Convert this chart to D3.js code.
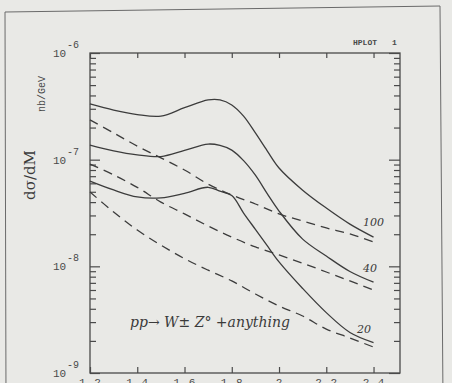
<!DOCTYPE html>
<html>
<head>
<meta charset="utf-8">
<script src="https://cdn.jsdelivr.net/npm/d3@7"></script>
<style>
  html, body { margin: 0; padding: 0; background: #e9e9e6; }
  svg { display: block; }
  .axis path { display: none; }
  .axis line { stroke: #4a4a4a; stroke-width: 1.2; }
  .mono { font-family: "Liberation Mono", "DejaVu Sans Mono", monospace; fill: #4a4a4a; }
  .hand { font-family: "DejaVu Serif", "Liberation Serif", serif; font-style: italic; fill: #3a3a3a; }
</style>
</head>
<body>
<div id="chart"></div>
<script>
// invariant mass (TeV) for the solid curves
var massSolid = [1.2, 1.3, 1.4, 1.5, 1.6, 1.7, 1.75, 1.8, 1.85, 1.9, 1.95, 2.0, 2.1, 2.2, 2.3, 2.4];
var solid100 = [3.33e-7, 2.92e-7, 2.65e-7, 2.56e-7, 3.07e-7, 3.63e-7, 3.63e-7, 3.26e-7, 2.56e-7, 1.78e-7, 1.21e-7, 8.36e-8, 5.18e-8, 3.52e-8, 2.49e-8, 1.88e-8];
var solid40  = [1.37e-7, 1.21e-7, 1.11e-7, 1.07e-7, 1.22e-7, 1.40e-7, 1.36e-7, 1.23e-7, 9.8e-8, 7.15e-8, 4.8e-8, 3.3e-8, 1.80e-8, 1.25e-8, 8.95e-9, 7.1e-9];
var solid20  = [6.3e-8, 5.2e-8, 4.47e-8, 4.38e-8, 4.84e-8, 5.51e-8, 5.06e-8, 4.61e-8, 3.16e-8, 2.22e-8, 1.56e-8, 1.10e-8, 6.2e-9, 3.68e-9, 2.40e-9, 1.93e-9];

// dashed curves (no peak)
var massDashed = [1.2, 1.3, 1.4, 1.5, 1.6, 1.7, 1.8, 1.9, 2.0, 2.1, 2.2, 2.3, 2.4];
var dashed100 = [2.36e-7, 1.78e-7, 1.34e-7, 1.04e-7, 8.0e-8, 5.9e-8, 4.67e-8, 3.84e-8, 3.10e-8, 2.66e-8, 2.29e-8, 2.01e-8, 1.69e-8];
var dashed40  = [9.1e-8, 7.2e-8, 5.5e-8, 4.0e-8, 3.10e-8, 2.39e-8, 1.88e-8, 1.52e-8, 1.28e-8, 1.07e-8, 8.85e-9, 7.3e-9, 6.0e-9];
var dashed20  = [4.98e-8, 3.23e-8, 2.19e-8, 1.58e-8, 1.18e-8, 9.2e-9, 7.3e-9, 5.5e-9, 4.25e-9, 3.42e-9, 2.58e-9, 2.13e-9, 1.75e-9];

var curveLabels = ["100", "40", "20"];

var xTickValues = [1.2, 1.4, 1.6, 1.8, 2.0, 2.2, 2.4];
var xTickLabels = ["1.2", "1.4", "1.6", "1.8", "2", "2.2", "2.4"];
var yDecades = [1e-6, 1e-7, 1e-8, 1e-9];
var yDecadeExp = ["-6", "-7", "-8", "-9"];

var width = 452, height = 383;
var plotLeft = 90, plotRight = 400, plotTop = 53, plotBottom = 373;

var svg = d3.select("#chart").append("svg")
    .attr("width", width)
    .attr("height", height);

// page border of the scanned sheet
svg.append("path")
    .attr("d", "M6,400 L5,12 L440,6 L443,400")
    .attr("fill", "none")
    .attr("stroke", "#6a6a6a")
    .attr("stroke-width", 1);

var x = d3.scaleLinear().domain([1.2, 2.512]).range([plotLeft, plotRight]);
var y = d3.scaleLog().domain([1e-9, 1e-6]).range([plotBottom, plotTop]);

// log minor tick values
var minorTicks = [];
yDecades.slice(1).forEach(function(d){
    for(var k = 2; k <= 9; k++){ minorTicks.push(d * k); }
});

// frame
svg.append("rect")
    .attr("x", plotLeft).attr("y", plotTop)
    .attr("width", plotRight - plotLeft).attr("height", plotBottom - plotTop)
    .attr("fill", "none")
    .attr("stroke", "#4a4a4a")
    .attr("stroke-width", 1.3);

// left axis
svg.append("g").attr("class", "axis")
    .attr("transform", "translate(" + plotLeft + ",0)")
    .call(d3.axisLeft(y).tickValues(yDecades).tickSize(-10).tickFormat(""));
svg.append("g").attr("class", "axis")
    .attr("transform", "translate(" + plotLeft + ",0)")
    .call(d3.axisLeft(y).tickValues(minorTicks).tickSize(-6).tickFormat(""));

// right axis
svg.append("g").attr("class", "axis")
    .attr("transform", "translate(" + plotRight + ",0)")
    .call(d3.axisRight(y).tickValues(yDecades).tickSize(-11).tickFormat(""));
svg.append("g").attr("class", "axis")
    .attr("transform", "translate(" + plotRight + ",0)")
    .call(d3.axisRight(y).tickValues(minorTicks).tickSize(-6).tickFormat(""));

// top axis
svg.append("g").attr("class", "axis")
    .attr("transform", "translate(0," + plotTop + ")")
    .call(d3.axisTop(x).tickValues(xTickValues).tickSize(-5).tickFormat(""));

// bottom axis
var xAxis = svg.append("g").attr("class", "axis")
    .attr("transform", "translate(0," + plotBottom + ")")
    .call(d3.axisBottom(x).tickValues(xTickValues).tickSize(-6).tickPadding(5)
        .tickFormat(function(d, i){ return xTickLabels[i]; }));
xAxis.selectAll("text")
    .attr("class", "mono")
    .style("font-size", "11px")
    .style("letter-spacing", "1px")
    .attr("fill", "#4a4a4a");

// y decade labels
var ylab = svg.selectAll(".ylab")
    .data(yDecades)
    .enter().append("g")
    .attr("class", "ylab");
ylab.append("text")
    .attr("class", "mono")
    .attr("x", 53)
    .attr("y", function(d){ return y(d) + 4; })
    .style("font-size", "11px")
    .text("10");
ylab.append("text")
    .attr("class", "mono")
    .attr("x", 67)
    .attr("y", function(d){ return y(d) - 5; })
    .style("font-size", "10px")
    .text(function(d, i){ return yDecadeExp[i]; });

// axis titles
svg.append("text")
    .attr("class", "mono")
    .attr("transform", "translate(45,94) rotate(-90)")
    .attr("text-anchor", "middle")
    .style("font-size", "10px")
    .text("nb/GeV");
svg.append("text")
    .attr("class", "hand")
    .attr("transform", "translate(35,175) rotate(-90)")
    .attr("text-anchor", "middle")
    .style("font-size", "15px")
    .style("font-style", "normal")
    .text("dσ/dM");

svg.append("text")
    .attr("class", "mono")
    .attr("x", 353).attr("y", 45)
    .style("font-size", "8px")
    .style("font-weight", "bold")
    .text("HPLOT");
svg.append("text")
    .attr("class", "mono")
    .attr("x", 392).attr("y", 45)
    .style("font-size", "8px")
    .style("font-weight", "bold")
    .text("1");

// curves
var line = function(mass){
    return d3.line()
        .x(function(d, i){ return x(mass[i]); })
        .y(function(d){ return y(d); })
        .curve(d3.curveCatmullRom.alpha(0.5));
};

var solidSeries = [solid100, solid40, solid20];
var dashedSeries = [dashed100, dashed40, dashed20];

svg.selectAll(".solid")
    .data(solidSeries)
    .enter().append("path")
    .attr("class", "solid")
    .attr("d", line(massSolid))
    .attr("fill", "none")
    .attr("stroke", "#3c3c3c")
    .attr("stroke-width", 1.3);

svg.selectAll(".dashed")
    .data(dashedSeries)
    .enter().append("path")
    .attr("class", "dashed")
    .attr("d", line(massDashed))
    .attr("fill", "none")
    .attr("stroke", "#3c3c3c")
    .attr("stroke-width", 1.3)
    .attr("stroke-dasharray", "9,6");

// curve labels sit just above the end of each solid curve
var labelMass = [2.355, 2.355, 2.33];
svg.selectAll(".clab")
    .data(curveLabels)
    .enter().append("text")
    .attr("class", "hand clab")
    .attr("x", function(d, i){ return x(labelMass[i]); })
    .attr("y", function(d, i){
        var s = solidSeries[i];
        return y(d3.interpolateNumber(s[14], s[15])(0.4)) - 3;
    })
    .style("font-size", "11px")
    .text(function(d){ return d; });

svg.append("text")
    .attr("class", "hand")
    .attr("x", 130).attr("y", 327)
    .style("font-size", "14px")
    .text("pp→ W± Z° +anything");
</script>
</body>
</html>
